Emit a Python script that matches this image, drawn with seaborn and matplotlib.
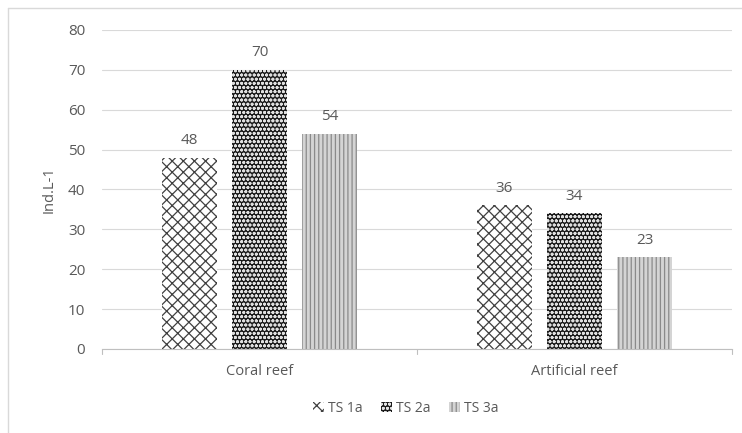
import pandas as pd
import numpy as np
import seaborn as sns
import matplotlib.pyplot as plt
from matplotlib.patches import Patch
from matplotlib.lines import Line2D

# data
sites = ['Coral reef', 'Artificial reef']
series = ['TS 1a', 'TS 2a', 'TS 3a']
ts1a = [48, 36]
ts2a = [70, 34]
ts3a = [54, 23]

df = pd.DataFrame({
    'site': sites * 3,
    'series': [s for s in series for _ in sites],
    'value': ts1a + ts2a + ts3a,
})

sns.set_style('white')
plt.rcParams['font.family'] = ['Open Sans', 'DejaVu Sans']
plt.rcParams['hatch.linewidth'] = 0.9
grey = '#595959'

fig = plt.figure(figsize=(7.42, 4.33), dpi=100)
ax = fig.add_axes([0.1375, 0.194, 0.849, 0.737])

sns.barplot(data=df, x='site', y='value', hue='series', order=sites,
            hue_order=series, width=0.667, gap=0.21, ax=ax, legend=False)

# fills and hatches per series
styles = {
    'TS 1a': dict(face='white', edge='#404040', hatch='xxx'),
    'TS 2a': dict(face='#1a1a1a', edge='#e0e0e0', hatch='oooo'),
    'TS 3a': dict(face='#d4d4d4', edge='#8a8a8a', hatch='||||'),
}
bars = ax.patches
for i, s in enumerate(series):
    st = styles[s]
    for b in bars[i * len(sites):(i + 1) * len(sites)]:
        b.set_facecolor(st['face'])
        b.set_edgecolor(st['edge'])
        b.set_hatch(st['hatch'])
        b.set_linewidth(0)

for c in ax.containers:
    ax.bar_label(c, padding=7, fontsize=11, color=grey)

ax.set_ylim(0, 80)
ax.set_yticks(range(0, 81, 10))
ax.set_xlim(-0.5, 1.5)
ax.yaxis.grid(True, color='#d9d9d9', linewidth=0.8)
ax.set_axisbelow(True)
for side in ['left', 'right', 'top']:
    ax.spines[side].set_visible(False)
ax.spines['bottom'].set_color('#bfbfbf')
ax.tick_params(axis='y', length=0, labelsize=11, labelcolor=grey, pad=12)
ax.tick_params(axis='x', length=0, labelsize=10.5, labelcolor=grey, pad=11)
for xb in [-0.5, 0.5, 1.5]:
    ax.plot([xb, xb], [0, -1.3], color='#bfbfbf', lw=0.8, clip_on=False)
ax.set_xlabel('')
ax.set_ylabel('Ind.L-1', fontsize=10.5, color=grey, labelpad=8)

handles = [Patch(facecolor=styles[s]['face'], edgecolor=styles[s]['edge'],
                 hatch=styles[s]['hatch'], linewidth=0) for s in series]
fig.legend(handles, series, loc='center', bbox_to_anchor=(0.547, 0.057), ncol=3,
           frameon=False, fontsize=10, labelcolor=grey, handlelength=0.8,
           handleheight=0.8, handletextpad=0.3, columnspacing=1.3)

# chart frame (left and top edges visible)
fig.add_artist(Line2D([8 / 742, 8 / 742], [0, 1 - 8 / 433], color='#d9d9d9', lw=1))
fig.add_artist(Line2D([8 / 742, 1], [1 - 8 / 433, 1 - 8 / 433], color='#d9d9d9', lw=1))

fig.savefig('out.png', dpi=100)
